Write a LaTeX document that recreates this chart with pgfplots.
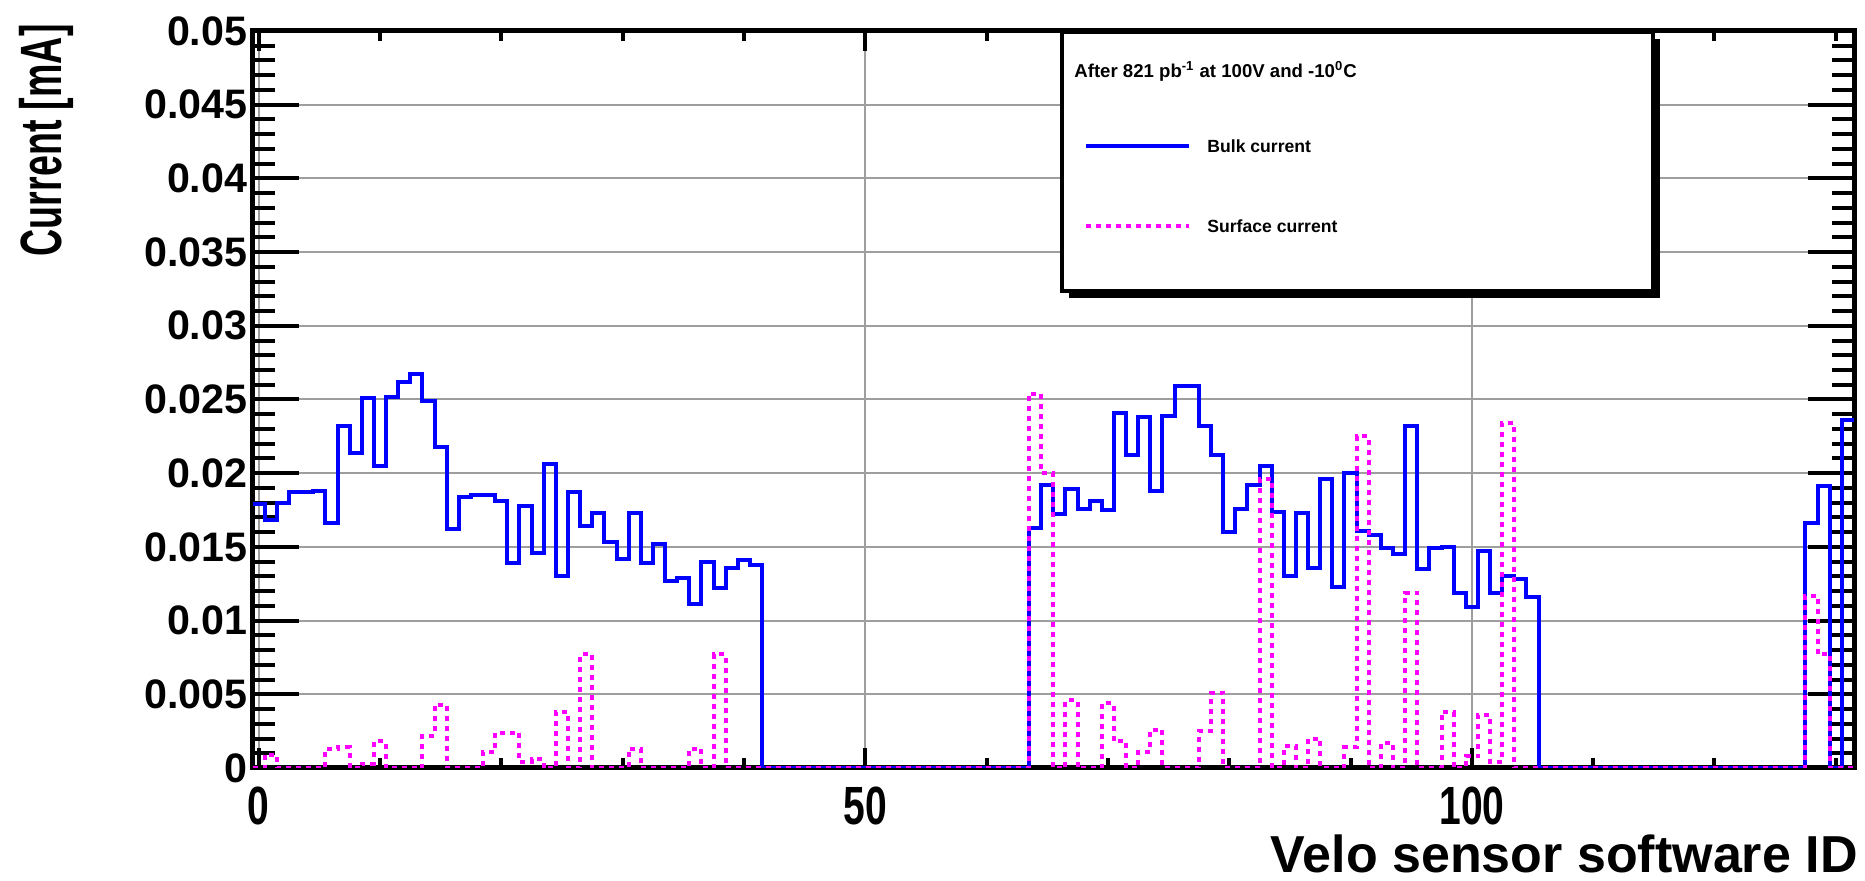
\documentclass[border=0pt]{standalone}
\usepackage{fontspec}
\setmainfont{Liberation Sans}
\usepackage{graphicx}
\usepackage{pgfplots}
\usepackage{pgfplotstable}
\pgfplotsset{compat=1.18}

\definecolor{rootblue}{RGB}{0,0,255}
\definecolor{rootmagenta}{RGB}{255,0,255}

% leakage currents per VELO sensor (mA); each row is one bin centred on the sensor ID
\pgfplotstableread{
id bulk surface
0 0.0179 0
1 0.0168 0.0009
2 0.0180 0
3 0.0187 0
4 0.0187 0
5 0.0188 0
6 0.0166 0.0013
7 0.0232 0.0014
8 0.0214 0
9 0.0251 0.0003
10 0.0205 0.0018
11 0.0252 0
12 0.0262 0
13 0.0267 0
14 0.0249 0.0022
15 0.0218 0.0043
16 0.0162 0
17 0.0184 0
18 0.0185 0
19 0.0185 0.0011
20 0.0181 0.0024
21 0.0139 0.0024
22 0.0178 0.0004
23 0.0146 0.0006
24 0.0206 0
25 0.0130 0.0038
26 0.0187 0
27 0.0164 0.0077
28 0.0173 0
29 0.0153 0
30 0.0142 0
31 0.0173 0.0013
32 0.0139 0
33 0.0152 0
34 0.0127 0
35 0.0129 0
36 0.0111 0.0013
37 0.0140 0
38 0.0122 0.0077
39 0.0136 0
40 0.0141 0
41 0.0138 0
42 0 0
43 0 0
44 0 0
45 0 0
46 0 0
47 0 0
48 0 0
49 0 0
50 0 0
51 0 0
52 0 0
53 0 0
54 0 0
55 0 0
56 0 0
57 0 0
58 0 0
59 0 0
60 0 0
61 0 0
62 0 0
63 0 0
64 0.0163 0.0254
65 0.0192 0.0200
66 0.0172 0
67 0.0189 0.0046
68 0.0176 0
69 0.0181 0
70 0.0175 0.0044
71 0.0241 0.0018
72 0.0212 0
73 0.0238 0.0011
74 0.0188 0.0026
75 0.0239 0
76 0.0259 0
77 0.0259 0
78 0.0232 0.0025
79 0.0212 0.0051
80 0.0160 0
81 0.0176 0
82 0.0192 0
83 0.0205 0.0196
84 0.0174 0
85 0.0130 0.0015
86 0.0173 0
87 0.0136 0.0020
88 0.0196 0
89 0.0123 0
90 0.0200 0.0014
91 0.0161 0.0225
92 0.0158 0
93 0.0149 0.0017
94 0.0145 0
95 0.0232 0.0119
96 0.0135 0
97 0.0149 0
98 0.0150 0.0038
99 0.0119 0
100 0.0109 0.0008
101 0.0147 0.0036
102 0.0119 0.0004
103 0.0130 0.0234
104 0.0128 0
105 0.0116 0
106 0 0
107 0 0
108 0 0
109 0 0
110 0 0
111 0 0
112 0 0
113 0 0
114 0 0
115 0 0
116 0 0
117 0 0
118 0 0
119 0 0
120 0 0
121 0 0
122 0 0
123 0 0
124 0 0
125 0 0
126 0 0
127 0 0
128 0.0166 0.0117
129 0.0191 0.0077
130 0 0
131 0.0236 0
132 0.0236 0
}\currents

\pgfplotsset{
  frame/.style={
    at={(0,0)}, anchor=south west,
    scale only axis, width=800.7pt, height=368.5pt,
    xmin=-0.5, xmax=131.5, ymin=0, ymax=0.05,
    axis line style={line width=2.5pt, black},
    tick style={line width=2pt, black},
    tick align=inside,
    grid style={line width=1pt, black!38},
    /pgf/number format/assume math mode=true,
  },
}

\begin{document}
\begin{tikzpicture}
% x axis: grid lines, tick marks, numbers and title
\begin{axis}[frame,
  xtick={0,50,100},
  minor xtick={10,20,30,40,60,70,80,90,110,120,130},
  ytick=\empty,
  major tick length=10pt, minor tick length=5pt,
  xmajorgrids,
  xticklabel={\scalebox{1}[1.38]{\pgfmathprintnumber{\tick}}},
  xticklabel style={font=\fontsize{19.5pt}{23pt}\selectfont\bfseries,
    anchor=north, inner sep=0pt, yshift=-9.5pt},
  xlabel={Velo sensor software ID},
  xlabel style={font=\fontsize{26pt}{30pt}\selectfont\bfseries,
    at={(axis description cs:1,0)}, anchor=base east, inner sep=0pt,
    text depth=0pt, xshift=2pt, yshift=-52.5pt},
]
\end{axis}
% y axis and the two current histograms
\begin{axis}[frame,
  xtick=\empty,
  ytick={0,0.005,0.01,0.015,0.02,0.025,0.03,0.035,0.04,0.045,0.05},
  minor y tick num=4,
  major tick length=23pt, minor tick length=11pt,
  ymajorgrids,
  scaled y ticks=false,
  yticklabel style={font=\fontsize{20.6pt}{24pt}\selectfont\bfseries,
    /pgf/number format/fixed, /pgf/number format/precision=3,
    anchor=east, inner sep=0pt, xshift=-2.5pt},
  ylabel={\scalebox{1}[1.55]{Current [mA]}},
  % the label is turned by 90 degrees, so its shifts act in the turned frame
  ylabel style={font=\fontsize{18.8pt}{22pt}\selectfont\bfseries,
    at={(axis description cs:0,1)}, anchor=base east,
    inner sep=0pt, xshift=3.5pt, yshift=95.5pt},
]
\addplot[const plot mark left, no marks, rootblue, line width=2pt]
  table[x expr=\thisrow{id}-0.5, y=bulk] {\currents};
\addplot[const plot mark left, no marks, rootmagenta, line width=2pt,
  dash pattern=on 2.5pt off 2.5pt]
  table[x expr=\thisrow{id}-0.5, y=surface] {\currents};
\end{axis}

% legend box with shadow
\fill[black] (408.2pt,235pt) rectangle (703.7pt,364.5pt);
\draw[line width=2pt, fill=white] (404.7pt,238.5pt) rectangle (700.2pt,368pt);
\node[anchor=west, inner sep=0pt, font=\fontsize{9.3pt}{11pt}\selectfont\bfseries]
  at (410.7pt,348.3pt) {After 821 pb\textsuperscript{-1} at 100V and -10\textsuperscript{0}C};
\draw[rootblue, line width=2pt] (416.7pt,311pt) -- (468.2pt,311pt);
\node[anchor=west, inner sep=0pt, font=\fontsize{8.8pt}{11pt}\selectfont\bfseries]
  at (477.2pt,311pt) {Bulk current};
\draw[rootmagenta, line width=2pt, dash pattern=on 2.5pt off 2.5pt] (416.7pt,271pt) -- (468.2pt,271pt);
\node[anchor=west, inner sep=0pt, font=\fontsize{8.8pt}{11pt}\selectfont\bfseries]
  at (477.2pt,271pt) {Surface current};

\pgfresetboundingbox
\path[use as bounding box] (-126.3pt,-56.5pt) rectangle (806.2pt,384pt);
\end{tikzpicture}
\end{document}
